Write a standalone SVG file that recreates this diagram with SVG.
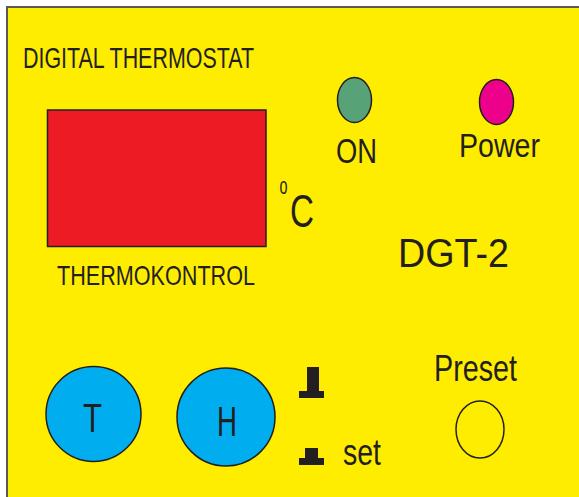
<svg xmlns="http://www.w3.org/2000/svg" width="579" height="497" viewBox="0 0 579 497">
  <style>
    .t { font-family: "Liberation Sans", Arial, sans-serif; fill: #231F20; }
    .ln { stroke: #231F20; stroke-width: 1.5; }
  </style>
  <rect x="0" y="0" width="579" height="497" fill="#ffffff"/>
  <g id="panel">
    <rect x="7" y="7" width="580" height="500" fill="#FFED00" stroke="#5a5a5a" stroke-width="2"/>
  </g>
  <g id="title">
    <text class="t" x="23" y="68" font-size="29.5" textLength="231" lengthAdjust="spacingAndGlyphs">DIGITAL THERMOSTAT</text>
  </g>
  <g id="display">
    <rect x="47.5" y="110" width="218.5" height="136.5" fill="#ED1C24" class="ln" stroke-width="1.2"/>
    <text class="t" x="57" y="285" font-size="28.5" textLength="198" lengthAdjust="spacingAndGlyphs">THERMOKONTROL</text>
  </g>
  <g id="unit">
    <text class="t" x="279.5" y="194" font-size="23" textLength="8" lengthAdjust="spacingAndGlyphs">o</text>
    <text class="t" x="290" y="227" font-size="46" textLength="24" lengthAdjust="spacingAndGlyphs">C</text>
  </g>
  <g id="led-on">
    <ellipse cx="354.5" cy="100" rx="17" ry="22.5" fill="#57A377" class="ln"/>
    <text class="t" x="336" y="163" font-size="35" textLength="41" lengthAdjust="spacingAndGlyphs">ON</text>
  </g>
  <g id="led-power">
    <ellipse cx="496.5" cy="102" rx="17" ry="22.5" fill="#EC008C" class="ln"/>
    <text class="t" x="459" y="157" font-size="34" textLength="81" lengthAdjust="spacingAndGlyphs">Power</text>
  </g>
  <g id="model">
    <text class="t" x="398" y="267" font-size="41" textLength="111" lengthAdjust="spacingAndGlyphs">DGT-2</text>
  </g>
  <g id="button-t">
    <circle cx="93.5" cy="414" r="47.5" fill="#00AEEF" class="ln"/>
    <text class="t" x="83" y="432" font-size="41" textLength="19" lengthAdjust="spacingAndGlyphs">T</text>
  </g>
  <g id="button-h">
    <circle cx="226" cy="417" r="49" fill="#00AEEF" class="ln"/>
    <text class="t" x="217" y="436" font-size="43" textLength="20" lengthAdjust="spacingAndGlyphs">H</text>
  </g>
  <g id="switch" fill="#231F20">
    <rect x="307" y="367" width="12" height="25"/>
    <rect x="299" y="391" width="25" height="7"/>
    <rect x="305" y="448" width="13" height="11"/>
    <rect x="299" y="458" width="25" height="7"/>
    <text class="t" x="343" y="465" font-size="36" textLength="38" lengthAdjust="spacingAndGlyphs">set</text>
  </g>
  <g id="preset">
    <text class="t" x="434" y="381" font-size="37" textLength="83" lengthAdjust="spacingAndGlyphs">Preset</text>
    <ellipse cx="480" cy="429.5" rx="24" ry="28.5" fill="none" class="ln"/>
  </g>
</svg>
